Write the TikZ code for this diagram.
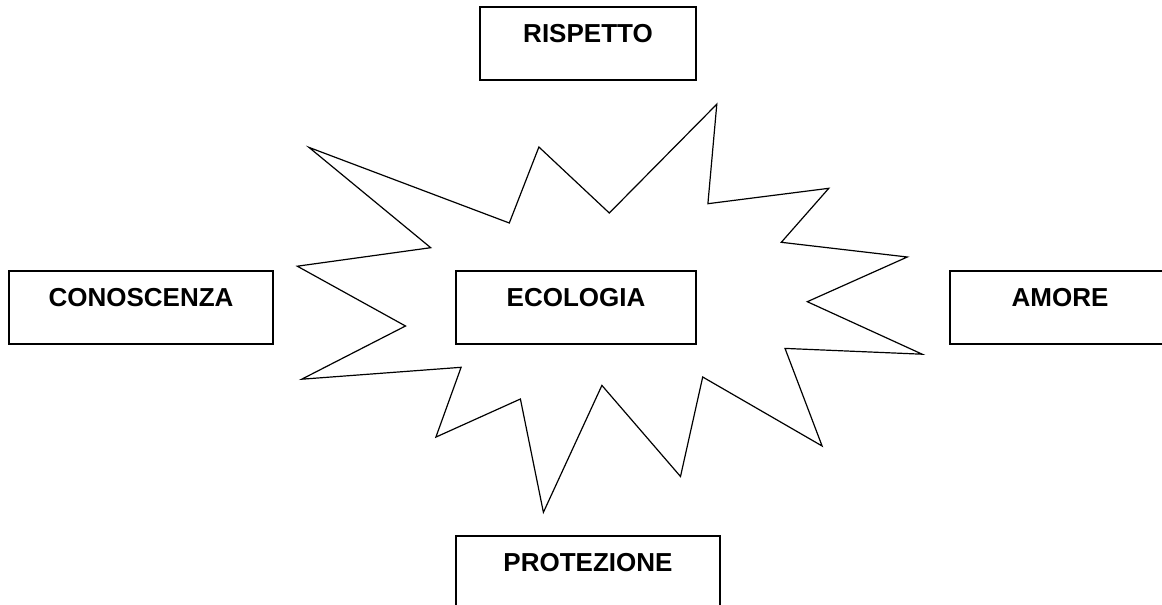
\documentclass[tikz,border=0pt]{standalone}
\usepackage{fontspec}
\setmainfont{Liberation Sans}
\begin{document}
\begin{tikzpicture}[x=1pt,y=-1pt,
  wordbox/.style={draw=black, line width=1.5pt, fill=white, anchor=north west,
    inner xsep=0pt, inner ysep=0pt, outer sep=0pt,
    minimum height=73pt, text height=35pt, text depth=38pt,
    font=\fontsize{26}{30}\selectfont\bfseries},
  burst/.style={draw=black, line width=1.2pt, line join=miter, fill=white}]
\useasboundingbox (0,0) rectangle (1162,605);
\clip (0,0) rectangle (1162,605);
\fill[white] (0,0) rectangle (1162,605);
\draw[burst] (309,147.4) -- (509.3,223) -- (538.9,147) -- (609.3,213) -- (716.8,104.2)
  -- (707.9,203.7) -- (828.8,188.3) -- (781.3,242.3) -- (907.3,257) -- (807.3,301.7)
  -- (922.2,354.2) -- (785,348.4) -- (822.1,446) -- (702.7,377) -- (680.5,476.5)
  -- (601.9,385.4) -- (543.4,512.3) -- (520.4,399) -- (435.9,437.1) -- (461.1,367.3)
  -- (301.7,379.2) -- (405.5,326) -- (297.3,266.2) -- (430.7,247.7) -- cycle;
\node[wordbox, minimum width=216pt] (rispetto) at (480,7) {RISPETTO};
\node[wordbox, minimum width=264pt] (conoscenza) at (9,271) {CONOSCENZA};
\node[wordbox, minimum width=240pt] (ecologia) at (456,271) {ECOLOGIA};
\node[wordbox, minimum width=220pt] (amore) at (950,271) {AMORE};
\node[wordbox, minimum width=264pt] (protezione) at (456,536) {PROTEZIONE};
\end{tikzpicture}
\end{document}
